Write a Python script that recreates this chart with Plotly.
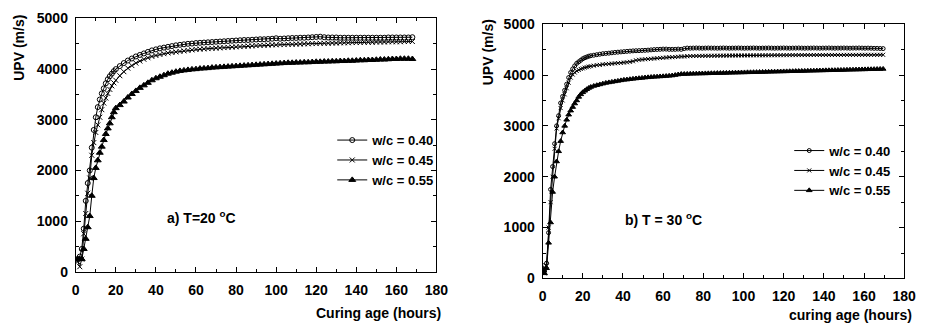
import plotly.graph_objects as go

# ---------------- data ----------------
# Left panel (T = 20 °C)
x_left = list(range(1, 21)) + list(range(22, 169, 2))
upv20_040 = [250, 300, 450, 850, 1400, 1750, 2000, 2450, 2800, 3050, 3250, 3400, 3520, 3620, 3720, 3800, 3860, 3910, 3960, 4000,
             4060, 4120, 4170, 4210, 4250, 4280, 4310, 4340, 4370, 4390,
             4410, 4425, 4440, 4455, 4470, 4480, 4490, 4500, 4505, 4515,
             4520, 4525, 4530, 4535, 4540, 4545, 4550, 4555, 4560, 4565,
             4570, 4575, 4575, 4580, 4585, 4590, 4590, 4595, 4600, 4610,
             4600, 4605, 4610, 4615, 4615, 4620, 4620, 4625, 4630, 4635,
             4640, 4630, 4625, 4625, 4625, 4620, 4620, 4620, 4620, 4620,
             4620, 4620, 4620, 4620, 4620, 4620, 4620, 4625, 4625, 4625,
             4625, 4625, 4625, 4630]
upv20_045 = [200, 100, 250, 750, 1150, 1550, 1850, 2300, 2550, 2750, 2900, 3050, 3200, 3330, 3430, 3520, 3600, 3670, 3730, 3780,
             3870, 3950, 4020, 4070, 4120, 4160, 4195, 4225, 4250, 4270,
             4290, 4305, 4320, 4330, 4340, 4350, 4360, 4370, 4380, 4390,
             4395, 4400, 4405, 4410, 4415, 4420, 4425, 4430, 4435, 4440,
             4445, 4450, 4455, 4460, 4465, 4470, 4470, 4475, 4480, 4480,
             4485, 4485, 4490, 4490, 4495, 4495, 4500, 4500, 4505, 4505,
             4510, 4510, 4510, 4515, 4515, 4520, 4520, 4520, 4525, 4525,
             4525, 4530, 4530, 4530, 4535, 4535, 4535, 4540, 4540, 4540,
             4540, 4545, 4545, 4545]
upv20_055 = [250, 250, 250, 450, 650, 880, 1100, 1500, 1850, 2050, 2200, 2350, 2470, 2600, 2720, 2830, 2930, 3050, 3150, 3230,
             3290, 3360, 3440, 3510, 3570, 3630, 3680, 3730, 3780, 3820,
             3850, 3880, 3910, 3930, 3950, 3965, 3975, 3985, 3995, 4000,
             4010, 4015, 4020, 4030, 4035, 4040, 4045, 4050, 4055, 4060,
             4065, 4070, 4075, 4080, 4085, 4090, 4095, 4100, 4105, 4110,
             4115, 4120, 4125, 4125, 4130, 4130, 4135, 4135, 4140, 4145,
             4145, 4150, 4150, 4155, 4155, 4160, 4160, 4165, 4165, 4170,
             4175, 4175, 4180, 4180, 4185, 4190, 4190, 4195, 4200, 4200,
             4205, 4205, 4205, 4200]

# Right panel (T = 30 °C)
x_right = [0.5] + list(range(1, 25)) + [25.5 + 1.5 * i for i in range(97)]
upv30_040 = [250, 150, 300, 900, 1750, 2200, 2650, 3000, 3200, 3450, 3580, 3700, 3820, 3950, 4050, 4120, 4180, 4230, 4260, 4290,
             4320, 4340, 4355, 4370, 4380,
             4390, 4400, 4410, 4420, 4425, 4430, 4438, 4445, 4450, 4455,
             4460, 4465, 4470, 4475, 4478, 4480, 4483, 4486, 4490, 4495,
             4500, 4503, 4506, 4510, 4510, 4505, 4505, 4505, 4510, 4505,
             4520, 4530,
             4528, 4530, 4532, 4530, 4528, 4530, 4532, 4530, 4530, 4528,
             4530, 4532, 4530, 4528, 4530, 4530, 4532, 4530, 4528, 4530,
             4530, 4532, 4530, 4528, 4530, 4530, 4532, 4530, 4528, 4530,
             4530, 4532, 4530, 4528, 4530, 4530, 4532, 4530, 4528, 4530,
             4530, 4532, 4530, 4528, 4530, 4530, 4532, 4530, 4528, 4530,
             4530, 4532, 4530, 4528, 4530, 4530, 4532, 4530, 4528, 4530,
             4528, 4525, 4525, 4522, 4520]
upv30_045 = [200, 100, 250, 1000, 1500, 2000, 2550, 2950, 3150, 3350, 3500, 3620, 3740, 3850, 3950, 4010, 4050, 4080, 4100, 4120,
             4130, 4145, 4155, 4165, 4175,
             4185, 4195, 4200, 4210, 4215, 4220, 4225, 4230, 4235, 4240,
             4245, 4250, 4260, 4270, 4290, 4300, 4305, 4310, 4315, 4320,
             4325, 4330, 4335, 4340, 4345, 4350, 4350, 4355, 4360, 4365,
             4365, 4370,
             4372, 4374, 4375, 4376, 4377, 4378, 4378, 4379, 4380, 4380,
             4381, 4382, 4382, 4383, 4384, 4384, 4385, 4385, 4386, 4386,
             4387, 4387, 4388, 4388, 4388, 4389, 4389, 4390, 4390, 4390,
             4391, 4391, 4391, 4392, 4392, 4392, 4393, 4393, 4393, 4393,
             4394, 4394, 4394, 4394, 4394, 4395, 4395, 4395, 4395, 4395,
             4395, 4396, 4396, 4396, 4396, 4396, 4396, 4397, 4397, 4397,
             4397, 4397, 4397, 4398, 4398]
upv30_055 = [150, 100, 200, 700, 1100, 1700, 2000, 2300, 2500, 2700, 2870, 3000, 3120, 3220, 3300, 3370, 3440, 3500, 3570, 3620,
             3660, 3690, 3720, 3745, 3765,
             3785, 3800, 3815, 3830, 3845, 3855, 3865, 3875, 3885, 3895,
             3905, 3910, 3918, 3925, 3932, 3938, 3944, 3950, 3955, 3960,
             3965, 3968, 3972, 3975, 3980, 3985, 3990, 4000, 4010, 4020,
             4020, 4022,
             4024, 4026, 4027, 4029, 4030, 4032, 4033, 4035, 4036, 4038,
             4039, 4041, 4042, 4044, 4045, 4047, 4048, 4050, 4051, 4053,
             4054, 4056, 4057, 4059, 4060, 4062, 4063, 4065, 4066, 4068,
             4069, 4071, 4072, 4074, 4075, 4077, 4078, 4080, 4081, 4083,
             4084, 4086, 4087, 4089, 4090, 4092, 4093, 4095, 4096, 4098,
             4099, 4101, 4102, 4104, 4105, 4107, 4108, 4110, 4111, 4113,
             4114, 4116, 4117, 4119, 4120]

series_names = ["w/c = 0.40", "w/c = 0.45", "w/c = 0.55"]
x_ticks = [0, 20, 40, 60, 80, 100, 120, 140, 160, 180]
y_ticks = [0, 1000, 2000, 3000, 4000, 5000]

# ---------------- figure ----------------
W, H = 929, 335
FONT = "Liberation Sans"
symbols = ["circle-open", "x-thin-open", "triangle-up"]

fig = go.Figure()

def add_panel(xv, ys, xa, ya, legend, msize):
    for name, yv, sym in zip(series_names, ys, symbols):
        fig.add_trace(go.Scatter(
            x=xv, y=yv, name=name, mode="lines+markers",
            xaxis=xa, yaxis=ya, legend=legend,
            line=dict(color="black", width=1),
            marker=dict(symbol=sym, size=msize if sym != "triangle-up" else msize + 1,
                        color="black", line=dict(color="black", width=1)),
        ))

add_panel(x_left, [upv20_040, upv20_045, upv20_055], "x", "y", "legend", 5)
add_panel(x_right, [upv30_040, upv30_045, upv30_055], "x2", "y2", "legend2", 4)

def px_x(p):
    return p / W

def px_y(p):
    return 1 - p / H

axis_common = dict(
    showline=True, linecolor="black", linewidth=1, mirror="ticks",
    ticks="inside", ticklen=5, tickwidth=1, tickcolor="black",
    showgrid=False, zeroline=False,
    tickfont=dict(family=FONT, size=14, color="black", weight="bold"),
)

fig.update_layout(
    width=W, height=H,
    margin=dict(l=0, r=0, t=0, b=0),
    paper_bgcolor="white", plot_bgcolor="white",
    xaxis=dict(domain=[px_x(73), px_x(440)], range=[0, 180], tickvals=x_ticks,
               anchor="y", ticklabelstandoff=5, **axis_common),
    yaxis=dict(domain=[px_y(277), px_y(11)], range=[0, 5000], tickvals=y_ticks,
               anchor="x", ticklabelstandoff=4, **axis_common),
    xaxis2=dict(domain=[px_x(548), px_x(916)], range=[0, 180], tickvals=x_ticks,
                anchor="y2", ticklabelstandoff=5, **axis_common),
    yaxis2=dict(domain=[px_y(284), px_y(17)], range=[0, 5000], tickvals=y_ticks,
                anchor="x2", ticklabelstandoff=4, **axis_common),
    legend=dict(x=px_x(334), y=px_y(123), xanchor="left", yanchor="top",
                bgcolor="rgba(0,0,0,0)", tracegroupgap=0,
                font=dict(family=FONT, size=13, color="black", weight="bold"),
                itemwidth=30),
    legend2=dict(x=px_x(799), y=px_y(134), xanchor="left", yanchor="top",
                 bgcolor="rgba(0,0,0,0)", tracegroupgap=0,
                 font=dict(family=FONT, size=13, color="black", weight="bold"),
                 itemwidth=30),
    showlegend=True,
)

minor_x = dict(ticks="inside", ticklen=3, tickwidth=1, tickcolor="black", dtick=10, tick0=0, showgrid=False)
minor_y = dict(ticks="inside", ticklen=3, tickwidth=1, tickcolor="black", dtick=500, tick0=0, showgrid=False)
fig.update_layout(xaxis_minor=minor_x, xaxis2_minor=minor_x, yaxis_minor=minor_y, yaxis2_minor=minor_y)

title_font = dict(family=FONT, size=14, color="black", weight="bold")
ann = [
    dict(text="UPV (m/s)", x=px_x(15), y=px_y(42), textangle=-90),
    dict(text="UPV (m/s)", x=px_x(492), y=px_y(47), textangle=-90),
    dict(text="Curing age (hours)", x=px_x(381), y=px_y(320)),
    dict(text="curing age (hours)", x=px_x(861), y=px_y(322)),
    dict(text="a) T=20 <sup>o</sup>C", x=px_x(201), y=px_y(220), font=dict(family=FONT, size=14, color="black", weight="bold")),
    dict(text="b) T = 30 <sup>o</sup>C", x=px_x(671), y=px_y(222), font=dict(family=FONT, size=14, color="black", weight="bold")),
]
for a in ann:
    a.setdefault("font", title_font)
    fig.add_annotation(xref="paper", yref="paper", showarrow=False,
                       xanchor="center", yanchor="middle", **a)

fig.write_html("out.html")
